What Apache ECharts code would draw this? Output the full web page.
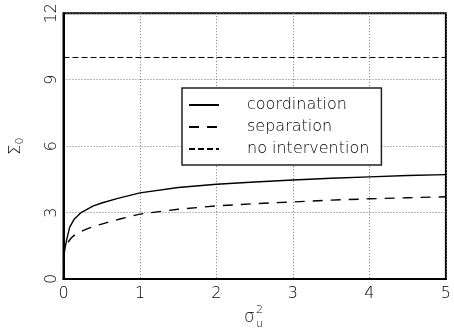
<!DOCTYPE html>
<html>
<head>
<meta charset="utf-8">
<script src="https://cdn.jsdelivr.net/npm/echarts@6/dist/echarts.min.js"></script>
<style>
  html, body { margin: 0; padding: 0; background: #fff; }
  #chart { width: 454px; height: 336px; }
</style>
</head>
<body>
<div id="chart"></div>
<script>
// Series names (legend order)
const seriesNames = ['coordination', 'separation', 'no intervention'];

// coordination curve
const xCoord = [0, 0.01, 0.02, 0.04, 0.08, 0.14, 0.23, 0.39, 0.5, 0.71, 1, 1.5, 2, 2.5, 3, 3.5, 4, 4.5, 5];
const yCoord = [0.85, 1.15, 1.4, 1.74, 2.33, 2.7, 3.0, 3.3, 3.43, 3.64, 3.89, 4.13, 4.28, 4.38, 4.47, 4.55, 4.61, 4.67, 4.71];

// separation curve
const xSep = [0.06, 0.1, 0.15, 0.2, 0.3, 0.4, 0.5, 0.6, 0.75, 1, 1.5, 2, 2.5, 3, 3.5, 4, 4.5, 5];
const ySep = [1.66, 1.85, 2.0, 2.1, 2.25, 2.38, 2.48, 2.58, 2.72, 2.93, 3.15, 3.3, 3.4, 3.48, 3.56, 3.62, 3.67, 3.71];

// no intervention (flat)
const xNone = [0, 5];
const yNone = [10, 10];

const font = 'DejaVu Sans';

const pairs = (xs, ys) => xs.map((x, i) => [x, ys[i]]);

const chart = echarts.init(document.getElementById('chart'));

const gridDots = { type: [1, 2], color: '#777', width: 1 };

const option = {
    animation: false,
    backgroundColor: '#fff',
    color: ['#000', '#000', '#000'],
    grid: {
        left: 54, right: 3, top: 10, bottom: 57,
        show: true, borderColor: '#000', borderWidth: 2
    },
    legend: {
        orient: 'vertical',
        left: 182, top: 88,
        width: 226,
        padding: [9, 12, 8, 6],
        itemWidth: 30, itemHeight: 14, itemGap: 6,
        backgroundColor: '#fff',
        borderColor: '#222', borderWidth: 1.5,
        itemStyle: { opacity: 0 },
        textStyle: { fontFamily: font, fontSize: 16, fontWeight: 300, color: '#000', padding: [0, 0, 0, 23] },
        data: seriesNames
    },
    xAxis: {
        type: 'value', min: 0, max: 5, interval: 1,
        axisLine: { lineStyle: { color: '#000', width: 2 } },
        axisTick: { show: false },
        axisLabel: { fontFamily: font, fontSize: 16, fontWeight: 300, color: '#000', margin: 7 },
        splitLine: { lineStyle: gridDots }
    },
    yAxis: {
        type: 'value', min: 0, max: 12, interval: 3,
        name: 'Σ{s|0}',
        nameLocation: 'middle', nameRotate: 90, nameGap: 38,
        nameTextStyle: {
            fontFamily: font, fontSize: 16, fontWeight: 300, color: '#000',
            rich: { s: { fontFamily: font, fontSize: 11, color: '#000', padding: [8, 0, 0, 0] } }
        },
        axisLine: { lineStyle: { color: '#000', width: 2 } },
        axisTick: { show: false },
        axisLabel: { fontFamily: font, fontSize: 16, fontWeight: 300, color: '#000', rotate: 90, margin: 4 },
        splitLine: { lineStyle: gridDots }
    },
    graphic: [
        { type: 'text', left: 244, top: 309, style: { text: 'σ', font: '300 17px "DejaVu Sans"', fill: '#000' } },
        { type: 'text', left: 256, top: 305, style: { text: '2', font: '300 11px "DejaVu Sans"', fill: '#000' } },
        { type: 'text', left: 256, top: 319, style: { text: 'u', font: '300 11px "DejaVu Sans"', fill: '#000' } }
    ],
    series: [
        {
            name: seriesNames[0], type: 'line', data: pairs(xCoord, yCoord),
            smooth: false, showSymbol: false, symbol: 'none',
            lineStyle: { color: '#000', width: 1.4, type: 'solid' }
        },
        {
            name: seriesNames[1], type: 'line', data: pairs(xSep, ySep),
            smooth: false, showSymbol: false, symbol: 'none',
            lineStyle: { color: '#000', width: 1.4, type: [10, 8] }
        },
        {
            name: seriesNames[2], type: 'line', data: pairs(xNone, yNone),
            showSymbol: false, symbol: 'none',
            lineStyle: { color: '#000', width: 1, type: [6, 3] }
        }
    ]
};

chart.setOption(option);
</script>
</body>
</html>
